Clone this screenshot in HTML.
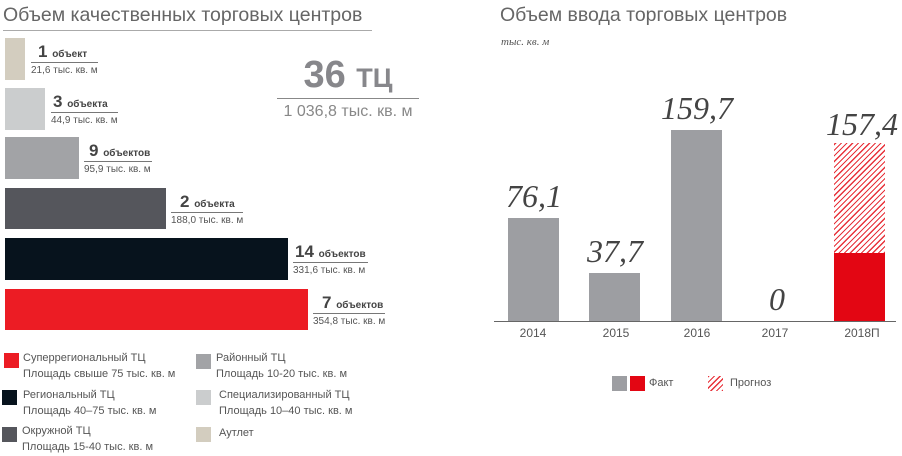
<!DOCTYPE html>
<html><head><meta charset="utf-8"><style>
body{margin:0;width:902px;height:456px;background:#fff;position:relative;overflow:hidden;font-family:"Liberation Sans","DejaVu Sans",sans-serif;color:#444}
div{position:absolute}
.bar{left:5px}
.n{font-weight:bold;font-size:17px;color:#444;white-space:nowrap}
.n small{font-size:10px}
.s{font-size:10px;color:#555;white-space:nowrap;padding-top:2px}
.ul{border-bottom:1px solid #777}
.sq{width:15px;height:15px}
.lt{font-size:11px;color:#555;line-height:16px;white-space:nowrap}
.v{font-family:"Liberation Serif",serif;font-style:italic;font-size:32px;color:#444;text-align:center;width:100px}
.yr{font-size:12px;color:#555;text-align:center;width:80px;top:326px}
</style></head><body>
<div style="left:3px;top:4px;font-size:19.5px;color:#666;white-space:nowrap">Объем качественных торговых центров</div>
<div style="left:3px;top:30px;width:369px;border-top:1px solid #aaa"></div>

<div class="bar" style="top:38px;width:20px;height:42px;background:#d3cdbf"></div>
<div class="bar" style="top:88px;width:40px;height:42px;background:#cbcdce"></div>
<div class="bar" style="top:137px;width:74px;height:42px;background:#a2a3a6"></div>
<div class="bar" style="top:188px;width:161px;height:41px;background:#55565c"></div>
<div class="bar" style="top:238px;width:283px;height:42px;background:#07131d"></div>
<div class="bar" style="top:289px;width:303px;height:41px;background:#ec1c24"></div>

<div style="left:31px;top:42px"><div class="n ul" style="position:relative;padding:0 2px 0 7px">1 <small>объект</small></div><div class="s" style="position:relative">21,6 тыс. кв. м</div></div>
<div style="left:51px;top:92px"><div class="n ul" style="position:relative;padding:0 2px 0 2px">3 <small>объекта</small></div><div class="s" style="position:relative">44,9 тыс. кв. м</div></div>
<div style="left:84px;top:141px"><div class="n ul" style="position:relative;padding:0 2px 0 5px">9 <small>объектов</small></div><div class="s" style="position:relative">95,9 тыс. кв. м</div></div>
<div style="left:171px;top:192px"><div class="n ul" style="position:relative;padding:0 2px 0 9px">2 <small>объекта</small></div><div class="s" style="position:relative">188,0 тыс. кв. м</div></div>
<div style="left:293px;top:242px"><div class="n ul" style="position:relative;padding:0 2px 0 2px">14 <small>объектов</small></div><div class="s" style="position:relative">331,6 тыс. кв. м</div></div>
<div style="left:313px;top:293px"><div class="n ul" style="position:relative;padding:0 2px 0 9px">7 <small>объектов</small></div><div class="s" style="position:relative">354,8 тыс. кв. м</div></div>

<div style="left:277px;top:54px;width:142px;text-align:center;font-weight:bold;font-size:38px;color:#87878b;white-space:nowrap">36 <span style="font-size:27px">ТЦ</span></div>
<div style="left:277px;top:98px;width:142px;border-top:1px solid #888"></div>
<div style="left:270px;top:103px;width:156px;text-align:center;font-size:16px;color:#888;white-space:nowrap">1 036,8 тыс. кв. м</div>

<div class="sq" style="left:4px;top:353px;background:#ec1c24"></div>
<div class="lt" style="left:23px;top:350px">Суперрегиональный ТЦ<br>Площадь свыше 75 тыс. кв. м</div>
<div class="sq" style="left:2px;top:390px;background:#07131d"></div>
<div class="lt" style="left:23px;top:387px">Региональный ТЦ<br>Площадь 40–75 тыс. кв. м</div>
<div class="sq" style="left:2px;top:427px;background:#55565c"></div>
<div class="lt" style="left:22px;top:423px">Окружной ТЦ<br>Площадь 15-40 тыс. кв. м</div>
<div class="sq" style="left:196px;top:354px;background:#a2a3a6"></div>
<div class="lt" style="left:216px;top:350px">Районный ТЦ<br>Площадь 10-20 тыс. кв. м</div>
<div class="sq" style="left:196px;top:390px;background:#cbcdce"></div>
<div class="lt" style="left:219px;top:387px">Специализированный ТЦ<br>Площадь 10–40 тыс. кв. м</div>
<div class="sq" style="left:196px;top:427px;background:#d3cdbf"></div>
<div class="lt" style="left:219px;top:425px">Аутлет</div>

<div style="left:500px;top:4px;font-size:19.5px;color:#666;white-space:nowrap">Объем ввода торговых центров</div>
<div style="left:501px;top:36px;font-family:'Liberation Serif',serif;font-style:italic;font-size:11px;color:#555">тыс. кв. м</div>

<div style="left:508px;top:218px;width:51px;height:103px;background:#9d9ea2"></div>
<div style="left:589px;top:273px;width:51px;height:48px;background:#9d9ea2"></div>
<div style="left:671px;top:130px;width:51px;height:191px;background:#9d9ea2"></div>
<div style="left:834px;top:143px;width:51px;height:110px;background:repeating-linear-gradient(-45deg,#e8323a 0 1.2px,#fff 1.2px 4px)"></div>
<div style="left:834px;top:253px;width:51px;height:68px;background:#e30613"></div>
<div style="left:494px;top:321px;width:402px;border-top:1px solid #666"></div>

<div class="v" style="left:484px;top:178px">76,1</div>
<div class="v" style="left:565px;top:233px">37,7</div>
<div class="v" style="left:647px;top:90px">159,7</div>
<div class="v" style="left:727px;top:281px">0</div>
<div class="v" style="left:812px;top:106px">157,4</div>

<div class="yr" style="left:493px">2014</div>
<div class="yr" style="left:576px">2015</div>
<div class="yr" style="left:657px">2016</div>
<div class="yr" style="left:735px">2017</div>
<div class="yr" style="left:822px">2018П</div>

<div class="sq" style="left:612px;top:376px;background:#9d9ea2"></div>
<div class="sq" style="left:630px;top:376px;background:#e30613"></div>
<div style="left:649px;top:377px;font-size:11px;color:#555">Факт</div>
<div class="sq" style="left:708px;top:376px;background:repeating-linear-gradient(-45deg,#e8323a 0 1.2px,#fff 1.2px 4px)"></div>
<div style="left:730px;top:377px;font-size:11px;color:#555">Прогноз</div>
</body></html>
